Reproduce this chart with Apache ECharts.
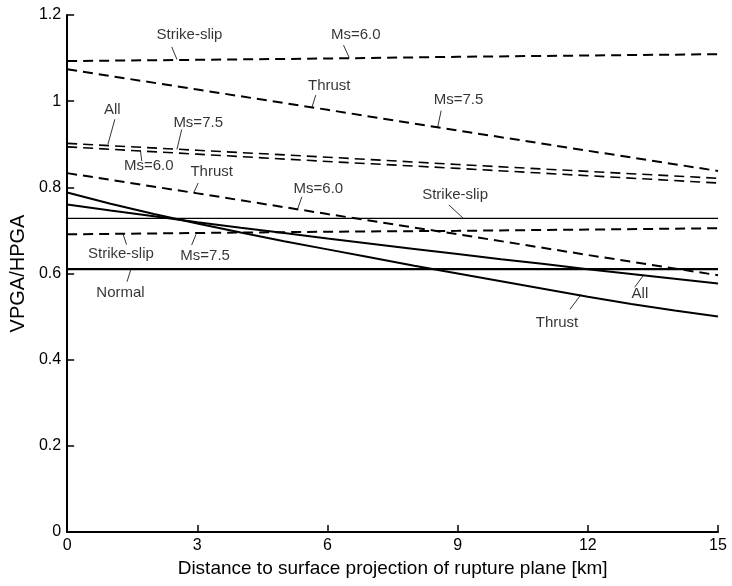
<!DOCTYPE html>
<html>
<head>
<meta charset="utf-8">
<script src="https://cdn.jsdelivr.net/npm/echarts@6/dist/echarts.min.js"></script>
<style>
html,body{margin:0;padding:0;background:#fff;}
#chart{width:732px;height:586px;}
</style>
</head>
<body>
<div id="chart"></div>
<script>
// Distances (km)
var distCoarse = [0, 3, 6, 9, 12, 15];
var distFine = [0,1,2,3,4,5,6,7,8,9,10,11,12,13,14,15];

// Dashed lines (values at distCoarse)
var ssMs60    = [1.093, 1.096, 1.099, 1.103, 1.106, 1.109];
var thrustMs75 = [1.074, 1.027, 0.980, 0.932, 0.885, 0.838];
var allMs75   = [0.902, 0.886, 0.870, 0.853, 0.837, 0.821];
var allMs60   = [0.894, 0.877, 0.860, 0.844, 0.827, 0.810];
var thrustMs60 = [0.833, 0.786, 0.738, 0.691, 0.643, 0.596];
var ssMs75    = [0.691, 0.694, 0.697, 0.699, 0.702, 0.705];

// Solid lines
var ssAll     = [0.728, 0.728, 0.728, 0.728, 0.728, 0.728];   // at distCoarse
var normalAll = [0.610, 0.610, 0.610, 0.610, 0.610, 0.610];   // at distCoarse
var allAll    = [0.760,0.746,0.733,0.719,0.706,0.694,0.681,0.669,0.657,0.645,0.633,0.622,0.610,0.599,0.588,0.577]; // at distFine
var thrustAll = [0.788,0.762,0.738,0.716,0.695,0.675,0.656,0.637,0.618,0.600,0.582,0.564,0.546,0.529,0.514,0.500]; // at distFine

// Annotations (data units)
var annoText = ['Strike-slip','Ms=6.0','Thrust','Ms=7.5','All','Ms=7.5','Ms=6.0','Thrust','Ms=6.0','Strike-slip','Strike-slip','Ms=7.5','Normal','All','Thrust'];
var annoX = [2.82, 6.65, 6.04, 9.02, 1.04, 3.02, 1.88, 3.33, 5.79, 8.94, 1.24, 3.18, 1.23, 13.2, 11.29];
var annoY = [1.155, 1.153, 1.035, 1.002, 0.979, 0.950, 0.850, 0.835, 0.797, 0.782, 0.646, 0.640, 0.555, 0.552, 0.486];
var leadFromX = [2.41, 6.37, 5.73, 8.62, 1.10, 2.64, 1.72, 3.02, 5.41, 8.80, 1.37, 2.87, 1.38, 13.08, 11.59];
var leadFromY = [1.126, 1.130, 1.014, 0.978, 0.958, 0.934, 0.861, 0.810, 0.778, 0.759, 0.667, 0.666, 0.581, 0.568, 0.517];
var leadToX = [2.53, 6.50, 5.64, 8.54, 0.94, 2.53, 1.69, 2.92, 5.31, 9.13, 1.29, 2.97, 1.47, 13.29, 11.84];
var leadToY = [1.097, 1.101, 0.985, 0.940, 0.900, 0.888, 0.885, 0.788, 0.749, 0.728, 0.691, 0.691, 0.610, 0.597, 0.551];

var FONT = '"Liberation Sans", Arial, Helvetica, sans-serif';

function pairs(xs, ys){ return xs.map(function(x,i){ return [x, ys[i]]; }); }

function lineSeries(name, xs, ys, dashed, width){
  return {
    name: name, type: 'line', data: pairs(xs, ys),
    showSymbol: false, symbol: 'none', smooth: false,
    lineStyle: {color: '#000', width: width, type: dashed ? [10, 6] : 'solid'},
    silent: true, z: 3
  };
}

var series = [
  lineSeries('SS Ms=6.0', distCoarse, ssMs60, true, 2),
  lineSeries('Thrust Ms=7.5', distCoarse, thrustMs75, true, 2),
  lineSeries('All Ms=7.5', distCoarse, allMs75, true, 1.6),
  lineSeries('All Ms=6.0', distCoarse, allMs60, true, 1.6),
  lineSeries('Thrust Ms=6.0', distCoarse, thrustMs60, true, 2),
  lineSeries('SS Ms=7.5', distCoarse, ssMs75, true, 2),
  lineSeries('Strike-slip', distCoarse, ssAll, false, 1.3),
  lineSeries('Normal', distCoarse, normalAll, false, 2.2),
  lineSeries('All', distFine, allAll, false, 2),
  lineSeries('Thrust', distFine, thrustAll, false, 2)
];

series.push({
  name: 'annotations', type: 'scatter', symbolSize: 1,
  itemStyle: {color: 'rgba(0,0,0,0)'},
  data: annoText.map(function(t,i){ return {name: t, value: [annoX[i], annoY[i]]}; }),
  label: {show: true, position: 'inside', formatter: function(p){ return p.name; },
          color: '#000', fontSize: 15, fontFamily: FONT},
  markLine: {
    silent: true, symbol: ['none','none'], animation: false,
    label: {show: false},
    lineStyle: {color: '#000', width: 0.8, type: 'solid'},
    data: leadFromX.map(function(x,i){
      return [{coord: [x, leadFromY[i]]}, {coord: [leadToX[i], leadToY[i]]}];
    })
  },
  silent: true, z: 5
});

var chart = echarts.init(document.getElementById('chart'), null, {renderer: 'canvas'});
chart.setOption({
  animation: false,
  backgroundColor: '#fff',
  grid: {left: 63, right: 14, top: 15, bottom: 54, containLabel: false},
  xAxis: {
    type: 'value', min: 0, max: 15, interval: 3,
    name: 'Distance to surface projection of rupture plane [km]',
    nameLocation: 'middle', nameGap: 27,
    nameTextStyle: {color: '#000', fontSize: 19, fontFamily: FONT},
    axisLine: {show: true, lineStyle: {color: '#000', width: 2}},
    axisTick: {show: true, inside: true, length: 7, lineStyle: {color: '#000', width: 1.5}},
    axisLabel: {color: '#000', fontSize: 16, fontFamily: FONT, margin: 6},
    splitLine: {show: false}
  },
  yAxis: {
    type: 'value', min: 0, max: 1.2, interval: 0.2,
    name: 'VPGA/HPGA',
    nameLocation: 'middle', nameGap: 36,
    nameTextStyle: {color: '#000', fontSize: 20, fontFamily: FONT},
    axisLine: {show: true, lineStyle: {color: '#000', width: 2}},
    axisTick: {show: true, inside: true, length: 7, lineStyle: {color: '#000', width: 1.5}},
    axisLabel: {color: '#000', fontSize: 16, fontFamily: FONT, margin: 6},
    splitLine: {show: false}
  },
  series: series
});
</script>
</body>
</html>
